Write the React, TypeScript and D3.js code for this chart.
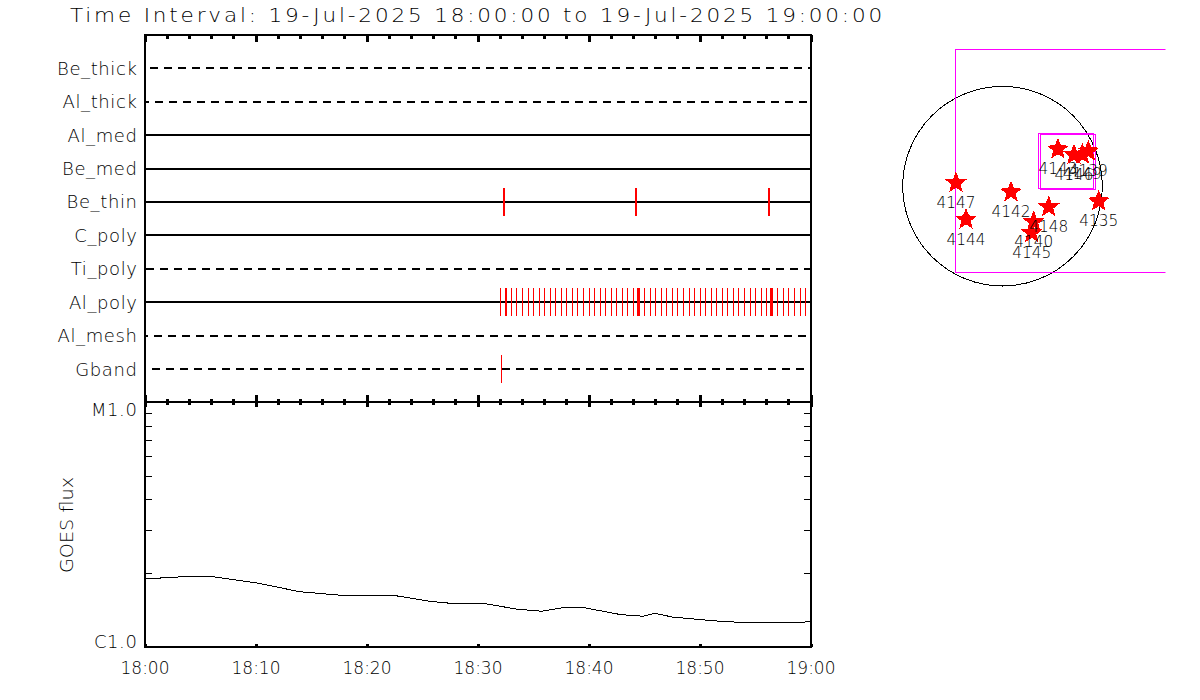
import React, { useRef, useEffect } from 'react';
import { select, scaleLinear, scaleLog, scalePoint, axisTop, axisBottom, axisLeft, axisRight, line, lineRadial, curveLinearClosed, range } from 'd3';

const TITLE = 'Time Interval: 19-Jul-2025 18:00:00 to 19-Jul-2025 19:00:00';
const FONT = '"DejaVu Sans", sans-serif';
const WEIGHT = 200;

// upper panel rows, top to bottom
const rows = ['Be_thick', 'Al_thick', 'Al_med', 'Be_med', 'Be_thin', 'C_poly', 'Ti_poly', 'Al_poly', 'Al_mesh', 'Gband'];
const dashedRows = ['Be_thick', 'Al_thick', 'Ti_poly', 'Al_mesh', 'Gband'];

// event times, minutes after 18:00
const beThinEvents = [32.3, 32.39, 44.19, 44.28, 56.17, 56.26];
const gbandEvents = [32.12];
const alPolyEvents = [
  32.03, 32.48, 32.57, 33.05, 33.5, 34.04, 34.58, 35.03, 35.57, 36.02, 36.56, 37.01, 37.55, 38.0, 38.54,
  38.99, 39.53, 40.07, 40.52, 41.06, 41.51, 42.05, 42.5, 43.05, 43.5, 44.04, 44.37, 44.46, 44.55, 45.03,
  45.57, 46.02, 46.53, 46.98, 47.55, 48.0, 48.54, 49.05, 49.5, 50.07, 50.52, 51.06, 51.51, 52.05, 52.5,
  53.05, 53.5, 54.04, 54.55, 55.03, 55.57, 56.02, 56.35, 56.44, 56.53, 57.0, 57.55, 58.0, 58.54, 59.08, 59.53,
];

// GOES curve
const goesMinutes = [0, 3.47, 6.17, 10.14, 14.0, 17.67, 22.39, 25.72, 27.56, 30.46, 33.5, 35.78, 37.88, 39.41, 42.93, 44.91, 45.99, 47.52, 51.49, 53.6, 59.39, 60];
const goesFlux = [1.896e-6, 1.936e-6, 1.936e-6, 1.825e-6, 1.681e-6, 1.626e-6, 1.626e-6, 1.536e-6, 1.508e-6, 1.508e-6, 1.429e-6, 1.399e-6, 1.452e-6, 1.452e-6, 1.355e-6, 1.335e-6, 1.373e-6, 1.326e-6, 1.277e-6, 1.261e-6, 1.261e-6, 1.277e-6];
const fluxLabels = ['C1.0', 'M1.0'];
const fluxTicks = [1e-6, 1e-5];
const fluxMinorTicks = [2e-6, 3e-6, 4e-6, 5e-6, 6e-6, 7e-6, 8e-6, 9e-6];
const timeLabels = ['18:00', '18:10', '18:20', '18:30', '18:40', '18:50', '19:00'];

// active regions on the disc, arcsec
const regionLabels = ['4147', '4144', '4142', '4140', '4145', '4148', '4135', '4143', '4146', '4149', '4139'];
const regionX = [-443, -347, 81, 297, 278, 440, 916, 528, 681, 760, 817];
const regionY = [32, -318, -57, -341, -446, -198, -143, 353, 299, 303, 334];

// field of view boxes, arcsec: x0, x1, y0, y1
const fovBoxes = [
  [-452, 1700, -821, 1308],
  [340, 870, -26, 504],
  [359, 887, -29, 494],
];

const LEFT = 144.5;
const RIGHT = 810.5;
const TOP = 35;
const MID = 402;
const BOTTOM = 647;

const x = scaleLinear().domain([0, 60]).range([LEFT, RIGHT]);
const rowY = scalePoint().domain(rows).range([34.88, 402.5]).padding(1);
const fluxY = scaleLog().domain([1e-6, 1e-5]).range([BOTTOM, MID]);
const mapX = scaleLinear().domain([-950, 950]).range([902.7, 1102.3]);
const mapY = scaleLinear().domain([-950, 950]).range([285.7, 86.7]);

const majorTicks = range(0, 61, 10);
const minorTicks = range(0, 61, 2).filter(d => d % 10 !== 0);

const rowPixel = (name: string) => Math.round(rowY(name) as number);
const goesLine = line<number>().x((d, i) => x(goesMinutes[i])).y(d => fluxY(d));

// five pointed star, a bit fatter than d3's symbolStar
const star = lineRadial<number>()
  .angle((d, i) => (i * Math.PI) / 5)
  .radius(d => d)
  .curve(curveLinearClosed)([11.5, 5, 11.5, 5, 11.5, 5, 11.5, 5, 11.5, 5]);

// where each dashed row's dash pattern starts
const dashStart: Record<string, number> = { Be_thick: 150, Al_thick: 155, Ti_poly: 146, Al_mesh: 154, Gband: 152 };
const dashOffset = (name: string) => (((LEFT - dashStart[name]) % 14) + 14) % 14;

function EventTicks({ name, events }: { name: string; events: number[] }) {
  const y = rowPixel(name);
  return <g stroke="#ff0000" strokeWidth={1} shapeRendering="crispEdges">
    {events.map((m, i) => {
      const px = Math.round(x(m)) + 0.5;
      return <line key={i} x1={px} x2={px} y1={y - 14} y2={y + 14} />;
    })}
  </g>;
}

function App() {
  const svgRef = useRef<SVGSVGElement>(null);

  useEffect(() => {
    const svg = select(svgRef.current);
    const blank = () => '';

    const xTicks = (cls: string, axis: any, values: number[], size: number) => {
      const g = svg.select(cls);
      g.call(axis(x).tickValues(values).tickSize(size).tickFormat(blank));
      g.select('.domain').remove();
      g.selectAll('line').attr('stroke-width', 3).attr('shape-rendering', 'crispEdges');
    };
    xTicks('.top-major', axisBottom, majorTicks, 7);
    xTicks('.top-minor', axisBottom, minorTicks, 4);
    xTicks('.mid-up-major', axisTop, majorTicks, 7);
    xTicks('.mid-up-minor', axisTop, minorTicks, 3);
    xTicks('.mid-down-major', axisBottom, majorTicks, 5);
    xTicks('.mid-down-minor', axisBottom, minorTicks, 3);
    xTicks('.bottom-major', axisTop, majorTicks, 3);
    xTicks('.bottom-minor', axisTop, minorTicks, 1);

    const labels = svg.select('.x-labels');
    labels.call(axisBottom(x).tickValues(majorTicks).tickSize(0).tickPadding(15).tickFormat((d, i) => timeLabels[i]));
    labels.select('.domain').remove();

    const rowAxis = svg.select('.row-labels');
    rowAxis.call(axisLeft(rowY).tickSize(0).tickPadding(7));
    rowAxis.select('.domain').remove();
    rowAxis.selectAll('text').attr('dy', 6);

    const fluxAxis = svg.select('.flux-labels');
    fluxAxis.call(axisLeft(fluxY).tickValues(fluxTicks).tickSize(0).tickPadding(7).tickFormat((d, i) => fluxLabels[i]));
    fluxAxis.select('.domain').remove();
    fluxAxis.selectAll('text').attr('dy', (d, i) => (i === 0 ? 0 : 13));

    const fluxMinor = (cls: string, axis: any) => {
      const g = svg.select(cls);
      g.call(axis(fluxY).tickValues(fluxMinorTicks).tickSize(7).tickFormat(blank));
      g.select('.domain').remove();
      g.selectAll('line').attr('shape-rendering', 'crispEdges');
    };
    fluxMinor('.flux-left', axisRight);
    fluxMinor('.flux-right', axisLeft);

    svg.selectAll('.row-labels, .flux-labels')
      .attr('font-family', FONT)
      .attr('font-weight', WEIGHT)
      .attr('font-size', 18)
      .style('letter-spacing', '0.6px');
    svg.selectAll('.x-labels')
      .attr('font-family', FONT)
      .attr('font-weight', WEIGHT)
      .attr('font-size', 17);
  }, []);

  return <svg ref={svgRef} width={1200} height={700} style={{ position: 'absolute', left: 0, top: 0, background: '#fff' }}>
    <defs>
      <clipPath id="map-clip"><rect x={880} y={0} width={285.5} height={700} /></clipPath>
    </defs>

    <text x={70} y={22} fontFamily={FONT} fontWeight={WEIGHT} fontSize={19} letterSpacing="2.5px" textLength={815} lengthAdjust="spacingAndGlyphs">{TITLE}</text>

    {/* upper panel */}
    {rows.map(name => {
      const dashed = dashedRows.includes(name);
      return <line key={name} x1={LEFT} x2={RIGHT} y1={rowPixel(name)} y2={rowPixel(name)}
        stroke="#000" strokeWidth={2} shapeRendering="crispEdges"
        strokeDasharray={dashed ? '8 6' : undefined}
        strokeDashoffset={dashed ? dashOffset(name) : undefined} />;
    })}
    <EventTicks name="Be_thin" events={beThinEvents} />
    <EventTicks name="Al_poly" events={alPolyEvents} />
    <EventTicks name="Gband" events={gbandEvents} />
    <g className="row-labels" transform={`translate(${LEFT},0)`} />
    <g className="top-major" transform={`translate(0,${TOP})`} />
    <g className="top-minor" transform={`translate(0,${TOP})`} />
    <g className="mid-up-major" transform={`translate(0,${MID})`} />
    <g className="mid-up-minor" transform={`translate(0,${MID})`} />

    {/* lower panel */}
    <path d={goesLine(goesFlux) as string} fill="none" stroke="#000" strokeWidth={1} shapeRendering="crispEdges" />
    <g className="mid-down-major" transform={`translate(0,${MID})`} />
    <g className="mid-down-minor" transform={`translate(0,${MID})`} />
    <g className="bottom-major" transform={`translate(0,${BOTTOM})`} />
    <g className="bottom-minor" transform={`translate(0,${BOTTOM})`} />
    <g className="flux-left" transform={`translate(${LEFT},0)`} />
    <g className="flux-right" transform={`translate(${RIGHT},0)`} />
    <g className="flux-labels" transform={`translate(${LEFT},0)`} />
    <g className="x-labels" transform={`translate(0,${BOTTOM})`} />
    <text transform="translate(73,525) rotate(-90)" textAnchor="middle" fontFamily={FONT} fontWeight={WEIGHT} fontSize={18} textLength={96} lengthAdjust="spacingAndGlyphs">GOES flux</text>

    {/* frames */}
    <g fill="none" stroke="#000" strokeWidth={2} shapeRendering="crispEdges">
      <rect x={LEFT} y={TOP} width={RIGHT - LEFT} height={MID - TOP} />
      <rect x={LEFT} y={MID} width={RIGHT - LEFT} height={BOTTOM - MID} />
    </g>

    {/* solar disc map */}
    <circle cx={mapX(0)} cy={mapY(0)} r={mapX(950) - mapX(0)} fill="none" stroke="#000" strokeWidth={1} shapeRendering="crispEdges" />
    <g clipPath="url(#map-clip)" fill="none" stroke="#ff00ff" strokeWidth={1} shapeRendering="crispEdges">
      {fovBoxes.map((b, i) => (
        <rect key={i} x={mapX(b[0])} y={mapY(b[3])} width={mapX(b[1]) - mapX(b[0])} height={mapY(b[2]) - mapY(b[3])} />
      ))}
    </g>
    {regionLabels.map((label, i) => (
      <path key={label} d={star as string} fill="#ff0000" shapeRendering="crispEdges" transform={`translate(${mapX(regionX[i])},${mapY(regionY[i])})`} />
    ))}
    {regionLabels.map((label, i) => (
      <text key={label} x={mapX(regionX[i]) - 19.5} y={mapY(regionY[i]) + 25} fontFamily={FONT} fontWeight={WEIGHT} fontSize={15} textLength={39} lengthAdjust="spacingAndGlyphs">{label}</text>
    ))}
  </svg>;
}

export default App;
